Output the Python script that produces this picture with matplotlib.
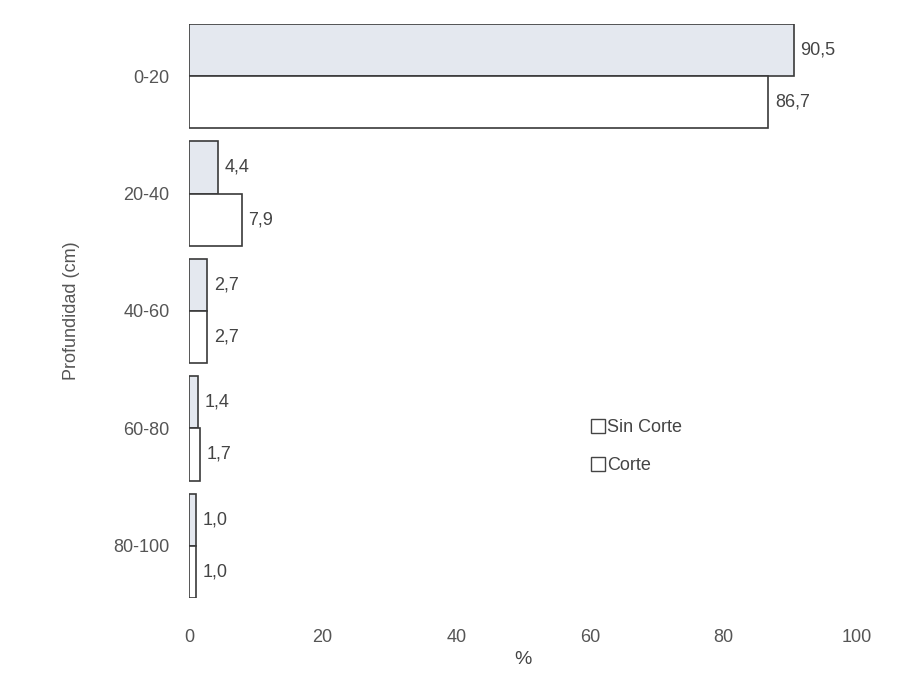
import matplotlib.pyplot as plt
from matplotlib.lines import Line2D
import numpy as np

plt.rcParams['font.family'] = ['Liberation Sans', 'DejaVu Sans']

# Profundidad del suelo y porcentaje por tratamiento
profundidad = ["0-20", "20-40", "40-60", "60-80", "80-100"]
sin_corte = [90.5, 4.4, 2.7, 1.4, 1.0]
corte = [86.7, 7.9, 2.7, 1.7, 1.0]

fig = plt.figure(figsize=(9.22, 6.78), dpi=100)
ax = fig.add_axes([0.205, 0.118, 0.7245, 0.8466])

y = np.arange(len(profundidad))
h = 0.444
ax.barh(y - h / 2, sin_corte, height=h, color='#e4e8ef', edgecolor='#3a3a3a', linewidth=1.2)
ax.barh(y + h / 2, corte, height=h, color='white', edgecolor='#3a3a3a', linewidth=1.2)

for i in range(len(profundidad)):
    ax.text(sin_corte[i] + 1.0, y[i] - h / 2, f"{sin_corte[i]:.1f}".replace('.', ','),
            va='center', ha='left', fontsize=13, color='#444444')
    ax.text(corte[i] + 1.0, y[i] + h / 2, f"{corte[i]:.1f}".replace('.', ','),
            va='center', ha='left', fontsize=13, color='#444444')

ax.set_xlim(0, 100)
ax.set_ylim(len(profundidad) - 1 + h, -h)
ax.set_yticks(y)
ax.set_yticklabels(profundidad)
ax.set_xticks([0, 20, 40, 60, 80, 100])
ax.tick_params(axis='both', length=0, labelsize=13, colors='#555555')
ax.tick_params(axis='x', pad=22)
ax.tick_params(axis='y', pad=14)
for s in ax.spines.values():
    s.set_visible(False)

ax.set_xlabel("%", fontsize=14, color='#444444', labelpad=4)
ax.set_ylabel("Profundidad (cm)", fontsize=13, color='#555555', labelpad=24)

handles = [Line2D([], [], marker='s', linestyle='none', markersize=10,
                  markerfacecolor='white', markeredgecolor='#444444', markeredgewidth=1.0)
           for _ in range(2)]
ax.legend(handles, ["Sin Corte", "Corte"], loc='upper left', bbox_to_anchor=(0.575, 0.34),
          frameon=False, fontsize=13, handletextpad=0.0, labelspacing=1.15, handlelength=1.0,
          labelcolor='#444444')

fig.savefig("out.png", dpi=100)
